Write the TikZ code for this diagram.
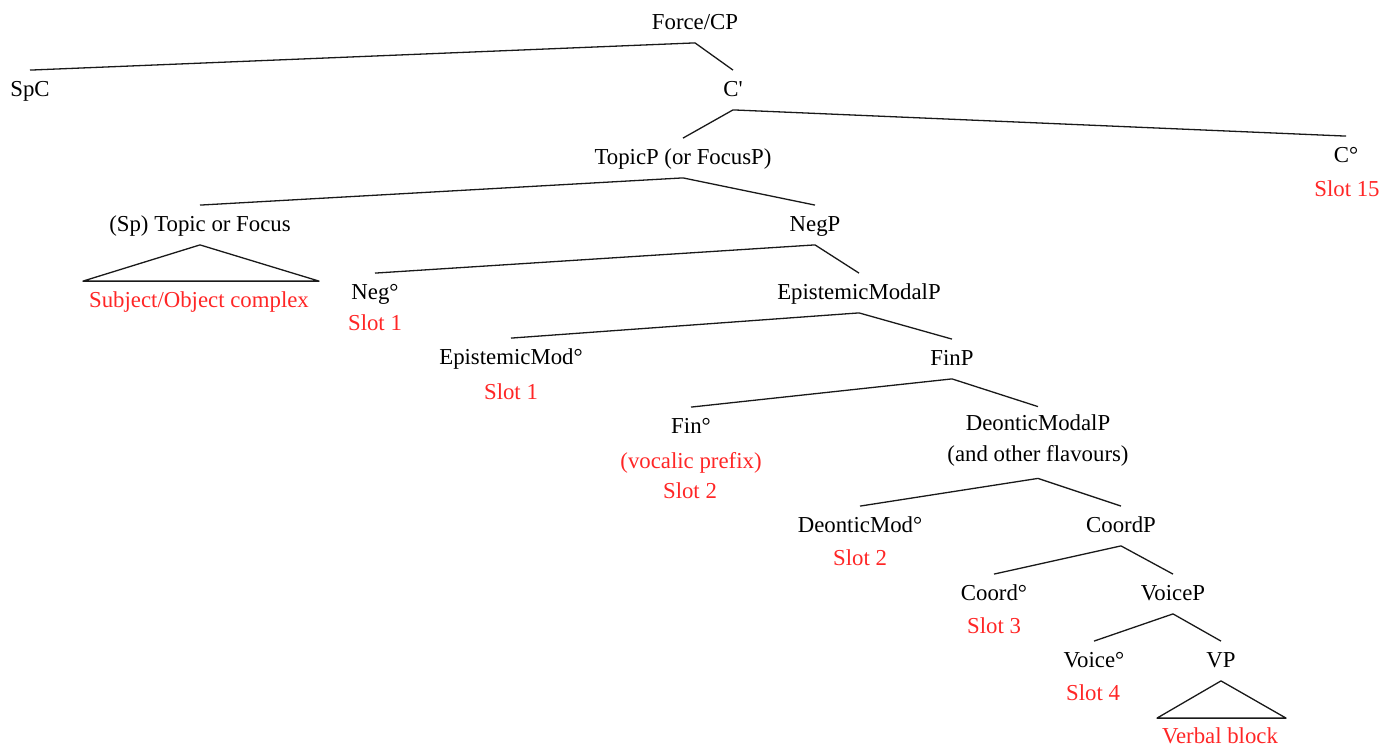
\documentclass[tikz,border=0pt]{standalone}
\usepackage{fontspec}
\setmainfont{Liberation Serif}
\usetikzlibrary{calc}
\definecolor{slotred}{RGB}{255,38,38}
\begin{document}
\begin{tikzpicture}[x=0.5pt,y=-0.5pt,
  every node/.style={font=\fontsize{11.4}{15.5}\selectfont, execute at begin node=\strut},
  cat/.style={inner sep=0pt, minimum height=19.5pt, text=black},
  slot/.style={inner sep=0pt, text=slotred},
  branch/.style={draw=black!90, line width=0.65pt, line join=round}]
\useasboundingbox (0,0) rectangle (1397,749);

% category labels
\node[cat] (forcecp) at (695,23)  {Force/CP};
\node[cat] (spc)     at (30,90)   {SpC};
\node[cat] (cbar)    at (733,90)  {C\textquotesingle};
\node[cat] (topicp)  at (683,158) {TopicP (or FocusP)};
\node[cat] (czero)   at (1346,156){C°};
\node[cat] (spfoc)   at (200,225) {(Sp) Topic or Focus};
\node[cat] (negp)    at (815,225) {NegP};
\node[cat] (neg)     at (375,293) {Neg°};
\node[cat] (epmp)    at (859,293) {EpistemicModalP};
\node[cat] (epm)     at (511,358) {EpistemicMod°};
\node[cat] (finp)    at (952,359) {FinP};
\node[cat] (fin)     at (691,427) {Fin°};
\node[cat, align=center, minimum height=35.5pt] (dmp) at (1038,442.5) {DeonticModalP\\(and other flavours)};
\node[cat] (dm)      at (860,526) {DeonticMod°};
\node[cat] (coordp)  at (1121,526){CoordP};
\node[cat] (coord)   at (994,594) {Coord°};
\node[cat] (voicep)  at (1173,594){VoiceP};
\node[cat] (voice)   at (1094,661){Voice°};
\node[cat] (vp)      at (1221,661){VP};

% slot annotations
\node[slot] (slot15)  at (1347,190) {Slot 15};
\node[slot] (subj)    at (199,301)  {Subject/Object complex};
\node[slot] (slotneg) at (375,324)  {Slot 1};
\node[slot] (slotepm) at (511,393)  {Slot 1};
\node[slot] (vocalic) at (691,462)  {(vocalic prefix)};
\node[slot] (slotfin) at (690,492)  {Slot 2};
\node[slot] (slotdm)  at (860,559)  {Slot 2};
\node[slot] (slotco)  at (994,627)  {Slot 3};
\node[slot] (slotvo)  at (1093,694) {Slot 4};
\node[slot] (verbal)  at (1220,737) {Verbal block};

% branches
\draw[branch] (spc.north) -- (forcecp.south) -- (cbar.north);
\draw[branch] (topicp.north) -- (cbar.south) -- (czero.north);
\draw[branch] (spfoc.north) -- (topicp.south) -- (negp.north);
\draw[branch] (neg.north) -- (negp.south) -- (epmp.north);
\draw[branch] (epm.north) -- (epmp.south) -- (finp.north);
\draw[branch] (fin.north) -- (finp.south) -- (dmp.north);
\draw[branch] (dm.north) -- (dmp.south) -- (coordp.north);
\draw[branch] (coord.north) -- (coordp.south) -- (voicep.north);
\draw[branch] (voice.north) -- (voicep.south) -- (vp.north);

% collapsed constituents
\draw[branch] (spfoc.south) -- ($(subj.north)+(-116,-4)$) -- ($(subj.north)+(120,-4)$) -- cycle;
\draw[branch] (vp.south) -- ($(verbal.north)+(-63,-3)$) -- ($(verbal.north)+(66,-3)$) -- cycle;
\end{tikzpicture}
\end{document}
